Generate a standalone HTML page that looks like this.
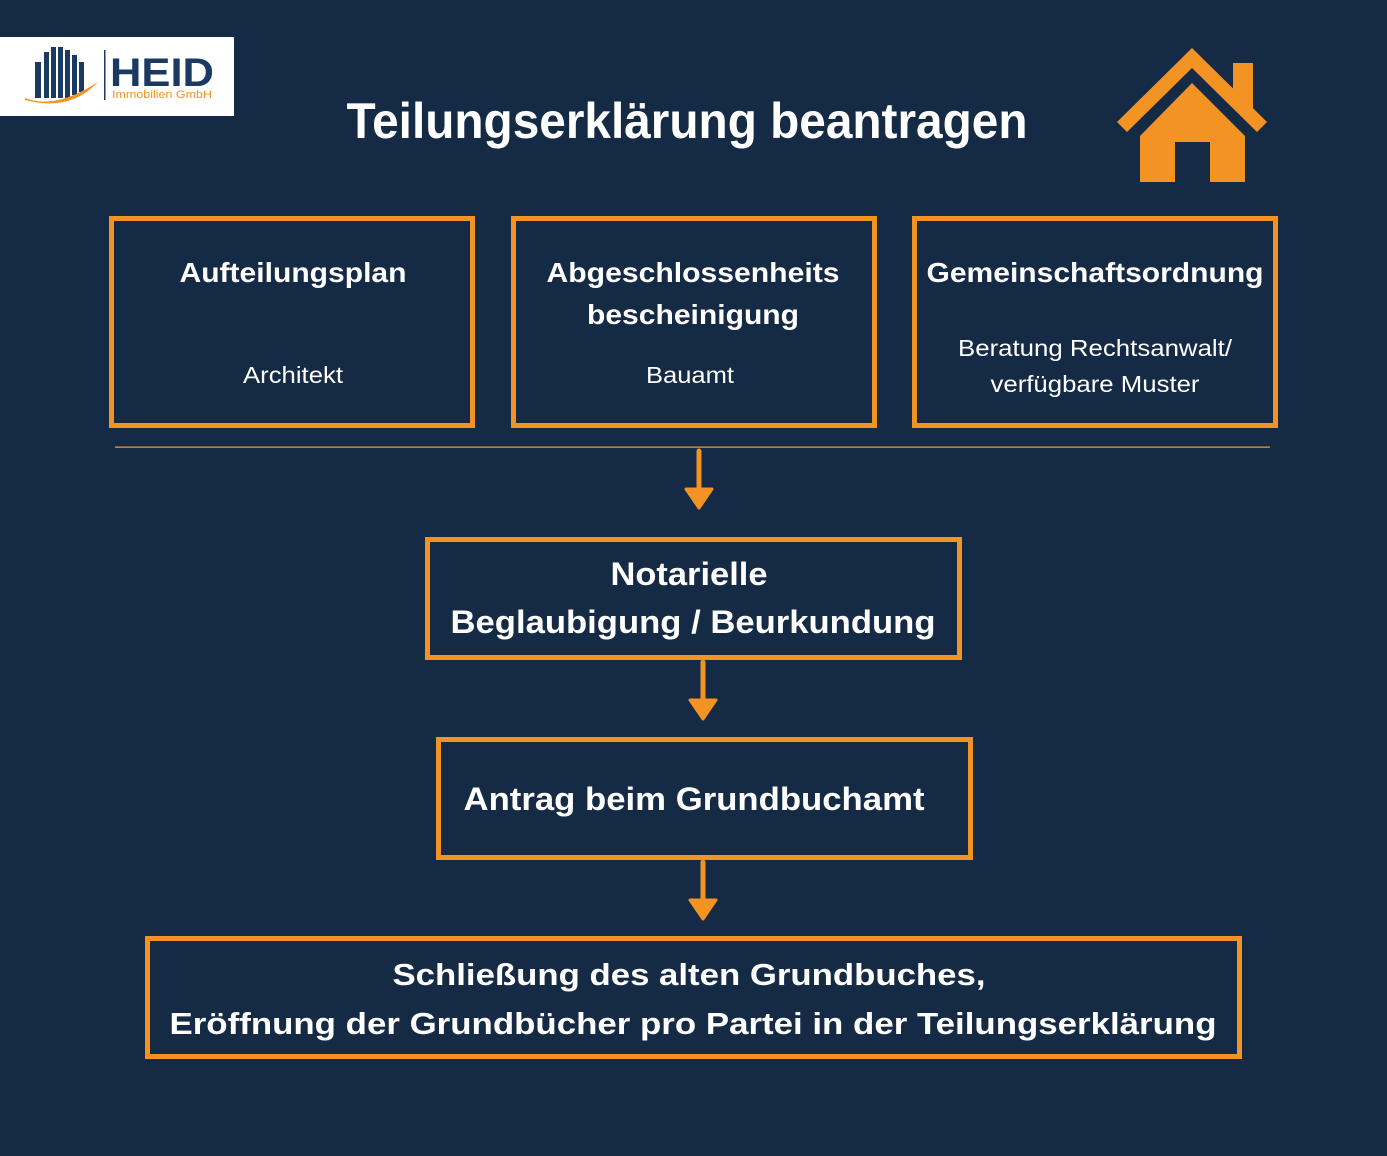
<!DOCTYPE html>
<html><head><meta charset="utf-8"><style>
html,body{margin:0;padding:0;background:#152a45;}
svg{display:block}
text{font-family:"Liberation Sans",sans-serif;fill:#fff}
.b{font-weight:bold}
</style></head><body>
<svg width="1387" height="1156" viewBox="0 0 1387 1156" xmlns="http://www.w3.org/2000/svg">
<rect width="1387" height="1156" fill="#152a45"/>
<!-- logo -->
<rect x="0" y="37" width="234" height="79" fill="#fff"/>
<g fill="#1b3a63">
<rect x="35" y="62" width="6" height="36"/><rect x="44" y="52" width="5" height="46"/><rect x="51" y="47" width="5" height="51"/><rect x="58" y="47" width="5" height="51"/><rect x="65" y="50" width="5" height="48"/><rect x="72" y="55" width="5" height="40"/><rect x="79" y="62" width="5" height="30"/>
</g>
<path d="M25 98 Q55 110 98 82 Q70 112 25 100Z" fill="#f39323"/>
<rect x="104" y="50" width="1.5" height="50" fill="#1b3a63"/>
<text x="110" y="86" class="b" font-size="40" style="fill:#1b3a63" textLength="104" lengthAdjust="spacingAndGlyphs">HEID</text>
<text x="112" y="98" font-size="11" style="fill:#f39323" textLength="100" lengthAdjust="spacingAndGlyphs">Immobilien GmbH</text>
<!-- title -->
<text x="687" y="138" class="b" font-size="50" text-anchor="middle" textLength="681" lengthAdjust="spacingAndGlyphs">Teilungserklärung beantragen</text>
<!-- house -->
<g fill="#f39323">
<rect x="1233" y="63" width="20" height="45"/>
<polygon points="1117,122 1192,48 1267,122 1257,132 1192,68 1127,132"/>
<polygon points="1192,83 1245,136 1245,182 1210,182 1210,142 1175,142 1175,182 1140,182 1140,136"/>
</g>
<g fill="none" stroke="#f39323" stroke-width="5">
<rect x="111.5" y="218.5" width="361" height="207"/>
<rect x="513.5" y="218.5" width="361" height="207"/>
<rect x="914.5" y="218.5" width="361" height="207"/>
<rect x="427.5" y="539.5" width="532" height="118"/>
<rect x="438.5" y="739.5" width="532" height="118"/>
<rect x="147.5" y="938.5" width="1092" height="118"/>
</g>
<rect x="115" y="446.5" width="1155" height="1.3" fill="#f39323"/>
<g stroke="#f39323" stroke-width="5" stroke-linecap="round">
<line x1="699" y1="451" x2="699" y2="490"/>
<line x1="703" y1="662" x2="703" y2="700"/>
<line x1="703" y1="862" x2="703" y2="900"/>
</g>
<g fill="#f39323" stroke="#f39323" stroke-width="3" stroke-linejoin="round">
<polygon points="686,489 712,489 699,508"/>
<polygon points="690,700 716,700 703,719"/>
<polygon points="690,900 716,900 703,919"/>
</g>
<!-- box texts -->
<text x="293" y="282" class="b" font-size="28" text-anchor="middle" textLength="227" lengthAdjust="spacingAndGlyphs">Aufteilungsplan</text>
<text x="293" y="383" font-size="23" text-anchor="middle" textLength="100" lengthAdjust="spacingAndGlyphs">Architekt</text>
<text x="693" y="282" class="b" font-size="28" text-anchor="middle" textLength="293" lengthAdjust="spacingAndGlyphs">Abgeschlossenheits</text>
<text x="693" y="324" class="b" font-size="28" text-anchor="middle" textLength="212" lengthAdjust="spacingAndGlyphs">bescheinigung</text>
<text x="690" y="383" font-size="23" text-anchor="middle" textLength="88" lengthAdjust="spacingAndGlyphs">Bauamt</text>
<text x="1095" y="282" class="b" font-size="28" text-anchor="middle" textLength="337" lengthAdjust="spacingAndGlyphs">Gemeinschaftsordnung</text>
<text x="1095" y="356" font-size="23" text-anchor="middle" textLength="274" lengthAdjust="spacingAndGlyphs">Beratung Rechtsanwalt/</text>
<text x="1095" y="392" font-size="23" text-anchor="middle" textLength="209" lengthAdjust="spacingAndGlyphs">verfügbare Muster</text>
<text x="689" y="585" class="b" font-size="32" text-anchor="middle" textLength="157" lengthAdjust="spacingAndGlyphs">Notarielle</text>
<text x="693" y="633" class="b" font-size="32" text-anchor="middle" textLength="485" lengthAdjust="spacingAndGlyphs">Beglaubigung / Beurkundung</text>
<text x="694" y="810" class="b" font-size="32" text-anchor="middle" textLength="461" lengthAdjust="spacingAndGlyphs">Antrag beim Grundbuchamt</text>
<text x="689" y="985" class="b" font-size="31" text-anchor="middle" textLength="593" lengthAdjust="spacingAndGlyphs">Schließung des alten Grundbuches,</text>
<text x="693" y="1034" class="b" font-size="31" text-anchor="middle" textLength="1047" lengthAdjust="spacingAndGlyphs">Eröffnung der Grundbücher pro Partei in der Teilungserklärung</text>
</svg>
</body></html>
